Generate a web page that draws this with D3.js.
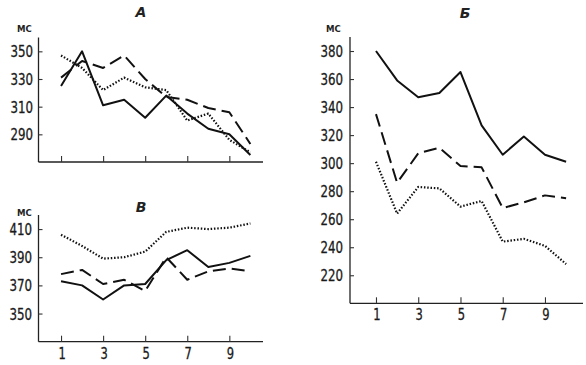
<!DOCTYPE html>
<html><head><meta charset="utf-8">
<script src="https://cdn.jsdelivr.net/npm/d3@7"></script>
<style>body{margin:0;background:#fff}svg{display:block}</style>
</head><body>
<svg id="c" width="586" height="365"></svg>
<script>
const trials = [1,2,3,4,5,6,7,8,9,10];
const xTickValues = [1,3,5,7,9];

const aSolid  = [325,350,311,315,302,318,305,294,290,275];
const aDashed = [331,343,338,347,330,317,315,309,306,283];
const aDotted = [347,338,322,331,324,322,300,305,286,277];
const aTicks  = [290,310,330,350];

const bSolid  = [380,359,347,350,365,327,306,319,306,301];
const bDashed = [335,286,307,311,298,297,268,272,277,275];
const bDotted = [301,264,283,282,269,273,244,246,241,228];
const bTicks  = [220,240,260,280,300,320,340,360,380];

const vSolid  = [373,370,360,370,371,388,395,383,386,391];
const vDashed = [378,381,371,374,366,390,374,380,382,380];
const vDotted = [406,398,389,390,394,408,411,410,411,414];
const vTicks  = [350,370,390,410];

const svg = d3.select("#c");
const FONT = "DejaVu Sans Condensed, DejaVu Sans, sans-serif";
const styles = {
  solid: {w:2, dash:null},
  dashed:{w:2, dash:"13,6"},
  dotted:{w:2.2, dash:"1.5,1.8"}
};

function panel(o){
  const x = d3.scaleLinear().domain(o.xDomain).range(o.xRange);
  const y = d3.scaleLinear().domain(o.yDomain).range(o.yRange);
  const g = svg.append("g");
  const ax = o.axisX;
  g.append("line").attr("x1",ax).attr("x2",ax)
    .attr("y1",o.yRange[0]).attr("y2",o.yRange[1]).attr("stroke","#222").attr("stroke-width",1.3);
  g.append("line").attr("x1",ax).attr("x2",o.xRange[1])
    .attr("y1",o.yRange[0]).attr("y2",o.yRange[0]).attr("stroke","#222").attr("stroke-width",1.3);
  // x ticks (inward)
  const xg = g.append("g").attr("transform",`translate(0,${o.yRange[0]})`)
    .call(d3.axisTop(x).tickValues(xTickValues).tickSize(6).tickFormat(""));
  xg.select(".domain").remove();
  xg.selectAll("line").attr("stroke","#333").attr("stroke-width",1.1);
  // y ticks (inward)
  const yg = g.append("g").attr("transform",`translate(${ax},0)`)
    .call(d3.axisRight(y).tickValues(o.yTicks).tickSize(4).tickFormat(""));
  yg.select(".domain").remove();
  yg.selectAll("line").attr("stroke","#333").attr("stroke-width",1.1);
  if(o.xLabels){
    g.selectAll(".xl").data(xTickValues).enter().append("text")
      .attr("x",d=>x(d)+1).attr("y",o.yRange[0]+17)
      .attr("text-anchor","middle")
      .attr("font-family",FONT).attr("font-size",15)
      .attr("textLength",d=>String(d).length*7.3).attr("lengthAdjust","spacingAndGlyphs")
      .attr("fill","#1a1a1a").attr("stroke","#1a1a1a").attr("stroke-width",0.3).text(d=>d);
  }
  g.selectAll(".yl").data(o.yTicks).enter().append("text")
    .attr("x",o.yLabelX).attr("y",d=>y(d)+6)
    .attr("text-anchor","end")
    .attr("font-family",FONT).attr("font-size",16)
    .attr("textLength",d=>String(d).length*7.5).attr("lengthAdjust","spacingAndGlyphs")
    .attr("fill","#1a1a1a").attr("stroke","#1a1a1a").attr("stroke-width",0.3).text(d=>d);
  g.append("text").attr("x",o.unitX).attr("y",o.unitY)
    .attr("text-anchor","middle").attr("font-family",FONT)
    .attr("font-size",9.5).attr("font-weight","bold").attr("fill","#222").text("МС");
  g.append("text").attr("x",o.titleX).attr("y",o.titleY)
    .attr("text-anchor","middle").attr("font-family","DejaVu Sans, sans-serif")
    .attr("font-style","italic").attr("font-weight","bold").attr("font-size",14)
    .attr("fill","#222").text(o.title);
  const line = d3.line().x((d,i)=>x(trials[i])).y(d=>y(d));
  o.series.forEach(s=>{
    const st = styles[s.style];
    g.append("path").datum(s.values).attr("d",line)
      .attr("fill","none").attr("stroke","#111").attr("stroke-width",st.w)
      .attr("stroke-dasharray",st.dash).attr("stroke-linejoin","round");
  });
}

panel({xDomain:[0,10.6], xRange:[40,263], axisX:38.5, yDomain:[270,360], yRange:[162,37.5],
  yTicks:aTicks, yLabelX:33, unitX:24.5, unitY:32, title:"А", titleX:141, titleY:17,
  xLabels:false,
  series:[{values:aDotted,style:"dotted"},{values:aDashed,style:"dashed"},{values:aSolid,style:"solid"}]});

panel({xDomain:[0,10.6], xRange:[40,263], axisX:38.5, yDomain:[330,420], yRange:[341.7,215],
  yTicks:vTicks, yLabelX:32, unitX:24.5, unitY:215.5, title:"В", titleX:141, titleY:212,
  xLabels:true,
  series:[{values:vDotted,style:"dotted"},{values:vDashed,style:"dashed"},{values:vSolid,style:"solid"}]});

panel({xDomain:[-0.23,10.8], xRange:[350,583], axisX:350, yDomain:[200,390], yRange:[303.3,37],
  yTicks:bTicks, yLabelX:343, unitX:333.5, unitY:31.5, title:"Б", titleX:465, titleY:18,
  xLabels:true,
  series:[{values:bDotted,style:"dotted"},{values:bDashed,style:"dashed"},{values:bSolid,style:"solid"}]});
</script>
</body></html>
